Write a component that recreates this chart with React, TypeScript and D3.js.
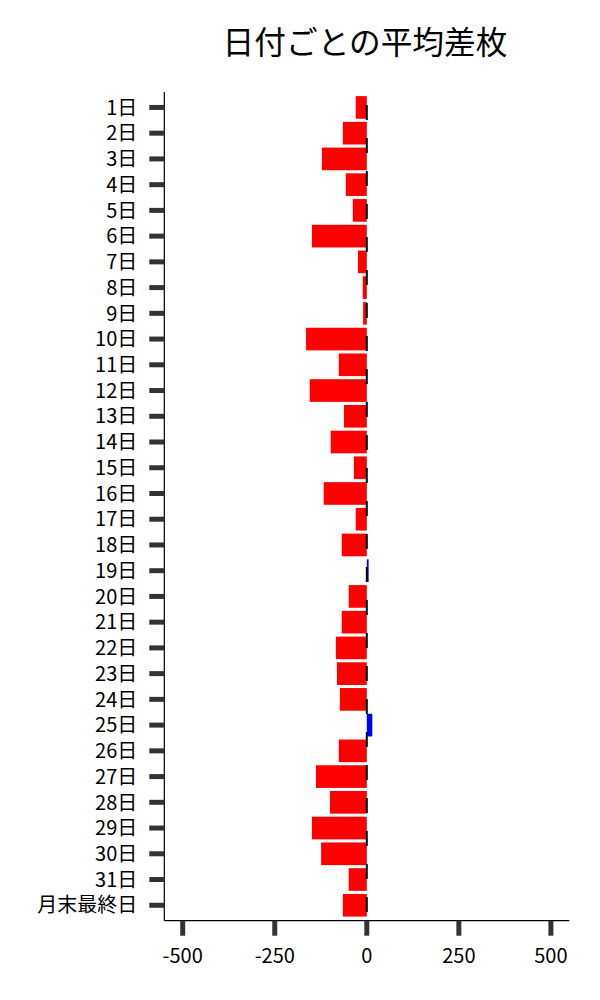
import React from "react";
import * as d3 from "d3";

const days = [
  "1日", "2日", "3日", "4日", "5日", "6日", "7日", "8日", "9日", "10日",
  "11日", "12日", "13日", "14日", "15日", "16日", "17日", "18日", "19日", "20日",
  "21日", "22日", "23日", "24日", "25日", "26日", "27日", "28日", "29日", "30日",
  "31日", "月末最終日",
];
const avgDiff = [
  -30, -65, -122, -57, -38, -149, -24, -11, -10, -165,
  -76, -155, -62, -98, -35, -117, -30, -68, 5, -49,
  -68, -84, -81, -73, 15, -76, -138, -100, -149, -124,
  -49, -65,
];
const xTicks = [-500, -250, 0, 250, 500];

const W = 600;
const H = 1000;
const left = 164.3;
const right = 569.3;
const top = 92;
const bottom = 920.7;
const font = "'Noto Sans CJK JP', 'Noto Sans', sans-serif";

const App = () => {
  const x = d3.scaleLinear().domain([-550, 550]).range([left, right]);
  const y = d3
    .scaleBand()
    .domain(days)
    .range([top, bottom])
    .paddingInner(0.12)
    .paddingOuter(0.16);

  return (
    <div style={{ position: "absolute", left: 0, top: 0 }}>
      <svg width={W} height={H} style={{ display: "block", background: "#fff" }}>
        <text
          x={365}
          y={54}
          textAnchor="middle"
          fontFamily={font}
          fontSize={31.7}
          fill="#000"
        >
          日付ごとの平均差枚
        </text>

        {/* bars */}
        {days.map((d, i) => {
          const v = avgDiff[i];
          const x0 = x(Math.min(0, v));
          const x1 = x(Math.max(0, v));
          return (
            <rect
              key={d}
              x={x0}
              y={y(d)}
              width={x1 - x0}
              height={y.bandwidth()}
              fill={v < 0 ? "#ff0000" : "#0000ff"}
            />
          );
        })}

        {/* zero line */}
        <line
          x1={x(0)}
          x2={x(0)}
          y1={top}
          y2={bottom}
          stroke="#000"
          strokeWidth={2}
          strokeDasharray="15 18"
          strokeDashoffset={20}
        />

        {/* y axis */}
        <line x1={left} x2={left} y1={top} y2={bottom} stroke="#000" strokeWidth={1.2} />
        {days.map((d) => {
          const cy = (y(d) as number) + y.bandwidth() / 2;
          return (
            <g key={d}>
              <line x1={left - 15} x2={left} y1={cy} y2={cy} stroke="#333" strokeWidth={5} />
              <text
                x={left - 27}
                y={cy}
                dy="0.36em"
                textAnchor="end"
                fontFamily={font}
                fontSize={20}
                fill="#000"
              >
                {d}
              </text>
            </g>
          );
        })}

        {/* x axis */}
        <line x1={left} x2={right} y1={bottom} y2={bottom} stroke="#000" strokeWidth={1.2} />
        {xTicks.map((t) => (
          <g key={t}>
            <line x1={x(t)} x2={x(t)} y1={bottom} y2={bottom + 15} stroke="#333" strokeWidth={5} />
            <text
              x={x(t)}
              y={963}
              textAnchor="middle"
              fontFamily={font}
              fontSize={20}
              fill="#000"
            >
              {t}
            </text>
          </g>
        ))}
      </svg>
    </div>
  );
};

export default App;
